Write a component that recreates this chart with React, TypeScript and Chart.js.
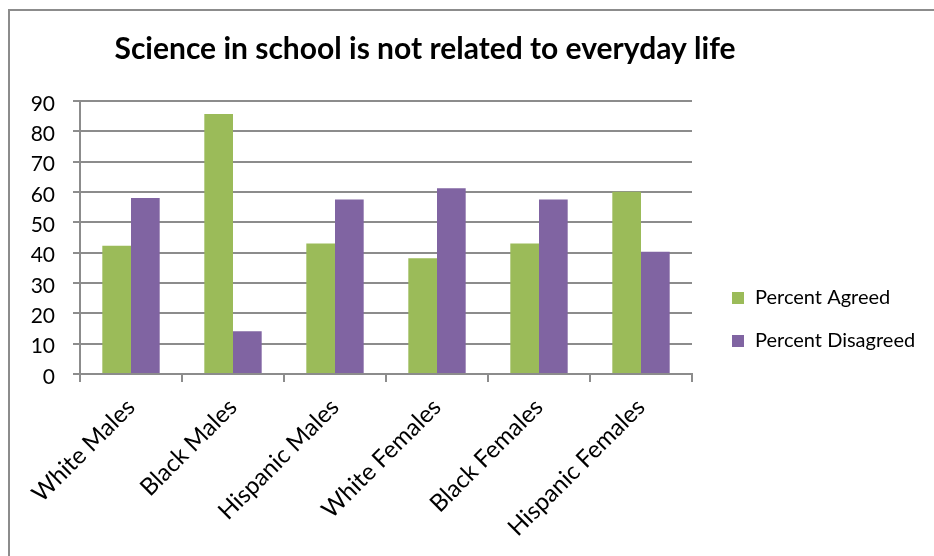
import React, { useEffect, useRef } from "react";
import { Chart, registerables, layouts } from "chart.js";

Chart.register(...registerables);

const chartTitle = "Science in school is not related to everyday life";
const categories = [
  "White Males",
  "Black Males",
  "Hispanic Males",
  "White Females",
  "Black Females",
  "Hispanic Females",
];
const seriesNames = ["Percent Agreed", "Percent Disagreed"];
const percentAgreed = [42.3, 85.7, 43.0, 38.2, 43.0, 60.1];
const percentDisagreed = [58.0, 14.1, 57.5, 61.2, 57.5, 40.3];
const yMin = 0;
const yMax = 90;
const yStep = 10;

const GREEN = "#9BBB59";
const PURPLE = "#8064A2";
const GRID = "#8c8c8c";
const FONT = "Lato";
const LEGEND_W = 158;

const sideLegend = {
  id: "sideLegend",
  beforeInit(chart: any) {
    const box: any = {
      position: "right",
      weight: 1000,
      fullSize: false,
      options: {},
      left: 0,
      top: 0,
      right: 0,
      bottom: 0,
      width: 0,
      height: 0,
      isHorizontal() {
        return false;
      },
      update(maxWidth: number, maxHeight: number) {
        this.width = LEGEND_W;
        this.height = maxHeight;
      },
      draw() {
        const ctx = chart.ctx;
        ctx.save();
        ctx.font = `20px ${FONT}`;
        ctx.textBaseline = "middle";
        ctx.textAlign = "left";
        chart.data.datasets.forEach((ds: any, i: number) => {
          const y = chart.chartArea.top + 197 + i * 43;
          ctx.fillStyle = ds.backgroundColor;
          ctx.fillRect(this.left + 40, y - 6, 12, 12);
          ctx.fillStyle = "#000";
          ctx.fillText(ds.label, this.left + 63, y);
        });
        ctx.restore();
      },
    };
    layouts.addBox(chart, box);
  },
};

export default function App() {
  const canvasRef = useRef<HTMLCanvasElement | null>(null);

  useEffect(() => {
    let chart: Chart | null = null;
    let cancelled = false;
    const make = () => {
      if (cancelled || !canvasRef.current) return;
      chart = new Chart(canvasRef.current, {
        type: "bar",
        data: {
          labels: categories,
          datasets: [
            {
              label: seriesNames[0],
              data: percentAgreed,
              backgroundColor: GREEN,
              categoryPercentage: 0.5625,
              barPercentage: 1,
            },
            {
              label: seriesNames[1],
              data: percentDisagreed,
              backgroundColor: PURPLE,
              categoryPercentage: 0.5625,
              barPercentage: 1,
            },
          ],
        },
        options: {
          animation: false,
          responsive: false,
          layout: { padding: { left: 0, right: 84, top: 0, bottom: 0 } },
          plugins: {
            legend: { display: false },
            tooltip: { enabled: false },
            title: {
              display: true,
              text: chartTitle,
              color: "#000",
              font: { family: FONT, size: 30, weight: "bold" },
              padding: { top: 31, bottom: 34 },
            },
          },
          scales: {
            x: {
              grid: {
                display: true,
                drawOnChartArea: false,
                drawTicks: true,
                tickLength: 8,
                color: GRID,
                lineWidth: 2,
                offset: true,
              },
              border: { display: true, color: GRID, width: 2 },
              ticks: {
                color: "#000",
                font: { family: FONT, size: 24 },
                minRotation: 45,
                maxRotation: 45,
                autoSkip: false,
                padding: 11,
              },
              afterFit(scale: any) {
                scale.height = 182;
              },
            },
            y: {
              min: yMin,
              max: yMax,
              ticks: {
                stepSize: yStep,
                color: "#000",
                font: { family: FONT, size: 21 },
                padding: 18,
                labelOffset: 3,
              },
              grid: { color: GRID, lineWidth: 2, tickLength: 7 },
              border: { display: true, color: GRID, width: 2 },
              afterFit(scale: any) {
                scale.width = 80;
              },
            },
          },
        },
        plugins: [sideLegend as any],
      });
    };
    const fonts: any = (document as any).fonts;
    if (fonts && fonts.load) {
      Promise.all([
        fonts.load(`20px ${FONT}`),
        fonts.load(`bold 30px ${FONT}`),
      ])
        .catch(() => {})
        .then(make);
    } else {
      make();
    }
    return () => {
      cancelled = true;
      if (chart) chart.destroy();
    };
  }, []);

  return (
    <div
      style={{
        position: "fixed",
        left: 0,
        top: 0,
        width: 934,
        height: 556,
        overflow: "hidden",
        background: "#fff",
      }}
    >
      <div
        style={{
          position: "absolute",
          left: 8,
          top: 9,
          width: 940,
          height: 560,
          borderTop: `2px solid ${GRID}`,
          borderLeft: `2px solid ${GRID}`,
        }}
      />
      <canvas
        ref={canvasRef}
        width={934}
        height={556}
        style={{ position: "absolute", left: 0, top: 0, width: 934, height: 556 }}
      />
    </div>
  );
}
